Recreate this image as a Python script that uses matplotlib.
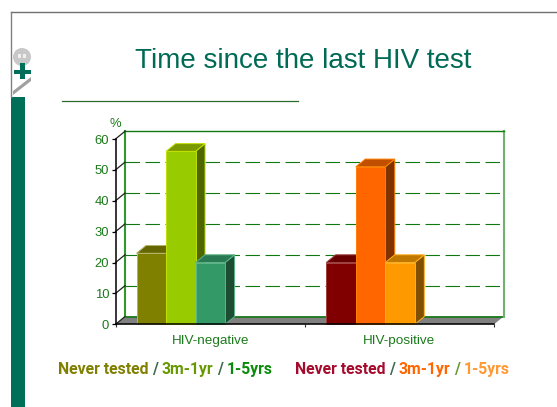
import matplotlib
matplotlib.use("Agg")
import matplotlib.pyplot as plt
from matplotlib.patches import Polygon, Rectangle, Circle

categories = ["HIV-negative", "HIV-positive"]
never_tested = [23, 20]
three_m_1yr = [56, 51]
one_5yrs = [20, 20]
y_ticks = [0, 10, 20, 30, 40, 50, 60]
title = "Time since the last HIV test"
legend_neg = [("Never tested", "#808000"), ("/", "#3a6a50"), ("3m-1yr", "#669900"), ("/", "#3a6a50"), ("1-5yrs", "#0a8a0a")]
legend_pos = [("Never tested", "#a50a2d"), ("/", "#3a6a50"), ("3m-1yr", "#ff6600"), ("/", "#669933"), ("1-5yrs", "#ff9933")]
face_colors = [["#808000", "#99cc00", "#339966"], ["#800000", "#ff6600", "#ff9900"]]
side_colors = [["#4d4d00", "#4d6600", "#1c4d33"], ["#4d0000", "#803300", "#805000"]]
top_colors = [["#666600", "#7a9900", "#297a52"], ["#660000", "#c05000", "#c07800"]]
edge_colors = [["#b3b366", "#c2e000", "#5cb386"], ["#a04040", "#ff8000", "#ffb020"]]

W, H = 557, 407
plt.rcParams["font.family"] = ["Liberation Sans", "DejaVu Sans"]

fig = plt.figure(figsize=(W / 100, H / 100), dpi=100, facecolor="white")
bg = fig.add_axes([0, 0, 1, 1])
bg.set_xlim(0, W); bg.set_ylim(H, 0); bg.axis("off")
bg.plot([11, W], [12, 12], color="#707070", lw=1.0)
bg.plot([11, 11], [12, 97], color="#808080", lw=1.0)
bg.add_patch(Rectangle((11, 97), 14, H - 97, color="#006f5a", lw=0))
bg.add_patch(Circle((22, 57), 9, color="#c8c8c8", lw=0))
bg.add_patch(Rectangle((18, 54), 2.5, 4, color="#f0f0f0", lw=0))
bg.add_patch(Rectangle((23, 54), 2.5, 4, color="#f0f0f0", lw=0))
bg.add_patch(Rectangle((14, 70), 17, 3.5, color="#006f5a", lw=0))
bg.add_patch(Rectangle((20, 63), 4.5, 16, color="#006f5a", lw=0))
bg.add_patch(Polygon([(13, 91), (31, 77), (31, 81), (13, 95)], color="#a0a0a0", lw=0))
bg.text(303.5, 60.5, title, ha="center", va="center", fontsize=20, color="#006a55")
bg.plot([62, 298], [101, 101], color="#2e6b2e", lw=0.9)

LEG_FONT = "Roboto"
LEG_SIZE = 11.3
LEG_GAP = 3.6

def legend_row(x, baseline, parts):
    renderer = fig.canvas.get_renderer()
    for text, col in parts:
        t = bg.text(x, baseline, text, color=col, fontsize=LEG_SIZE, fontweight="bold", family=LEG_FONT, va="baseline", ha="left")
        x = t.get_window_extent(renderer).x1 + LEG_GAP

legend_row(58, 374, legend_neg)
legend_row(295, 374, legend_pos)

ax = fig.add_axes([115.5 / W, 1 - 324.3 / H, 378.5 / W, 185.3 / H])
ax.set_xlim(0, 2); ax.set_ylim(0, 60)
ax.patch.set_alpha(0)
for s in ax.spines.values():
    s.set_visible(False)

DX, DY = 0.0502, 2.5
GREEN = "#1b7a1b"

ax.add_patch(Polygon([(0, 0), (2, 0), (2 + DX, DY), (DX, DY)], facecolor="#808080", edgecolor="none", zorder=1, clip_on=False))
ax.plot([DX, 2 + DX], [DY, DY], color="#117711", lw=1.2, zorder=1.2, clip_on=False)
ax.plot([DX, DX], [DY, 60 + DY], color="#2e9a2e", lw=1.5, zorder=1.2, clip_on=False)
ax.plot([2 + DX, 2 + DX], [DY, 60 + DY], color="#70b070", lw=1.5, zorder=1.2, clip_on=False)
ax.plot([DX, 2 + DX], [60 + DY, 60 + DY], color="#117711", lw=1.0, zorder=1.2, clip_on=False)
for v in y_ticks[1:-1]:
    ax.plot([DX, 2 + DX], [v + DY, v + DY], color="#117711", lw=0.8, dashes=(13, 5), zorder=1.3, clip_on=False)
for v in y_ticks:
    ax.plot([0, DX], [v, v + DY], color="#222222", lw=0.9, zorder=1.4, clip_on=False)

bw = 0.156
centers = [0.345, 1.3475]
series = [never_tested, three_m_1yr, one_5yrs]
for g, c in enumerate(centers):
    for k, vals in enumerate(series):
        v = vals[g]
        x0 = c + (k - 1.5) * bw
        x1 = x0 + bw
        z = 2 + k
        e = edge_colors[g][k]
        ax.add_patch(Polygon([(x1, 0), (x1 + DX, DY), (x1 + DX, v + DY), (x1, v)], facecolor=side_colors[g][k], edgecolor=e, lw=0.7, zorder=z, clip_on=False))
        ax.add_patch(Polygon([(x0, v), (x1, v), (x1 + DX, v + DY), (x0 + DX, v + DY)], facecolor=top_colors[g][k], edgecolor=e, lw=0.7, zorder=z, clip_on=False))
        ax.add_patch(Rectangle((x0, 0), bw, v, facecolor=face_colors[g][k], edgecolor=e, lw=0.7, zorder=z, clip_on=False))

ax.plot([0, 0], [0, 60], color="black", lw=1.1, zorder=6, clip_on=False)
ax.plot([0, 2], [0, 0], color="black", lw=1.1, zorder=6, clip_on=False)
ax.set_yticks(y_ticks)
ax.set_yticklabels([str(v) for v in y_ticks], fontsize=9.4, color=GREEN)
ax.tick_params(axis="y", length=3, width=0.9, color="black", pad=1.5)
ax.set_xticks([0, 1, 2])
ax.set_xticklabels([])
ax.tick_params(axis="x", length=2.5, width=0.8, color="#333333")
ax.set_xticks([0.5, 1.5], minor=True)
ax.set_xticklabels(categories, minor=True, fontsize=9.7, color=GREEN)
ax.tick_params(axis="x", which="minor", length=0, pad=7.5)
ax.text(0, 60 + 2.9, "%", fontsize=9.4, color=GREEN, ha="center", va="bottom")

fig.savefig("out.png", dpi=100, facecolor="white")
